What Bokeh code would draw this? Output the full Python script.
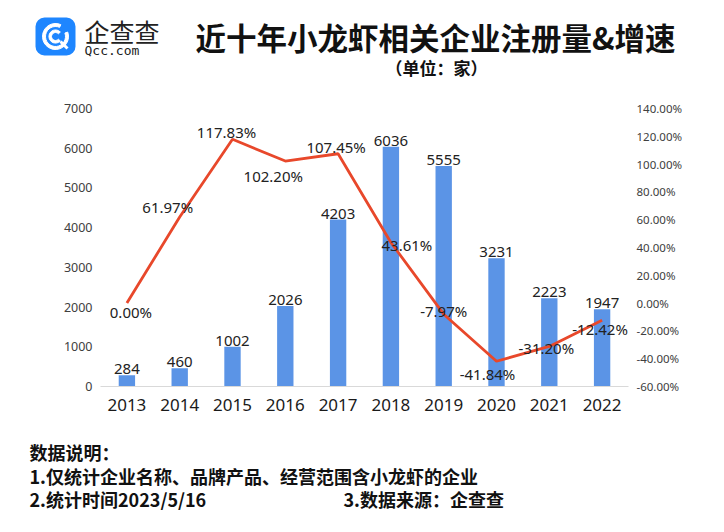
from bokeh.plotting import figure
from bokeh.models import Range1d, LinearAxis, FixedTicker, PrintfTickFormatter
from bokeh.layouts import column
from bokeh.core.properties import value
from bokeh.embed import file_html
from bokeh.resources import INLINE

# ---- data ----
years = ["2013", "2014", "2015", "2016", "2017", "2018", "2019", "2020", "2021", "2022"]
counts = [284, 460, 1002, 2026, 4203, 6036, 5555, 3231, 2223, 1947]
growth = [0.00, 61.97, 117.83, 102.20, 107.45, 43.61, -7.97, -41.84, -31.20, -12.42]
count_ticks = [0, 1000, 2000, 3000, 4000, 5000, 6000, 7000]
growth_ticks = [-60, -40, -20, 0, 20, 40, 60, 80, 100, 120, 140]

title = "近十年小龙虾相关企业注册量&增速"
subtitle = "（单位：家）"
notes = ["数据说明：", "1.仅统计企业名称、品牌产品、经营范围含小龙虾的企业", "2.统计时间2023/5/16"]
source_note = "3.数据来源：企查查"

# label placement (style): screen offsets, positive dy = downwards
pct_dx = [4, -12, -6, -12, -2, 16, 0, -9, -3, -2]
pct_dy = [9, -10, -7, 15, -7, 3, -3, 13, 2, 9]

CJK = value("Noto Sans CJK SC")
NUM = "Noto Sans"
BAR = "#5B94E6"
LINE = "#E8482B"
W = 716


def blank(h):
    f = figure(width=W, height=h, x_range=Range1d(0, W), y_range=Range1d(h, 0),
               output_backend="svg", toolbar_location=None, x_axis_type=None,
               y_axis_type=None, min_border=0, outline_line_color=None,
               frame_align=False)
    f.xgrid.visible = False
    f.ygrid.visible = False
    return f


# ---- header (page pixel coordinates) ----
hdr = blank(92)
hdr.rect(x=[55], y=[36], width=[40], height=[38], fill_color="#1E86FF",
         line_color=None, border_radius=9)
hdr.annular_wedge(x=[55], y=[36], inner_radius=10, outer_radius=13,
                  start_angle=[1.15], end_angle=[0.35], direction="anticlock",
                  color="white")
hdr.annular_wedge(x=[55], y=[36], inner_radius=4, outer_radius=6.6,
                  start_angle=[0.75], end_angle=[-0.75], direction="anticlock",
                  color="white")
hdr.line(x=[60, 67], y=[41, 48], line_color="white", line_width=3)
hdr.text(x=[84], y=[30], text=["企查查"], text_font=CJK, text_font_size="25px",
         text_color="#222222", text_baseline="middle", text_align="left")
hdr.text(x=[84], y=[50], text=["Qcc.com"], text_font=value("DejaVu Sans Mono"),
         text_font_size="13px", text_color="#222222", text_baseline="middle",
         text_align="left")
hdr.text(x=[195], y=[36.5], text=[title], text_font=CJK, text_font_size="30.5px",
         text_font_style="bold", text_color="#111111", text_baseline="middle",
         text_align="left")
hdr.text(x=[385], y=[67], text=[subtitle], text_font=CJK, text_font_size="17px",
         text_font_style="bold", text_color="#111111", text_baseline="middle",
         text_align="left")

# ---- main chart ----
p = figure(width=W, height=338, x_range=years, y_range=Range1d(0, 7000),
           output_backend="svg", toolbar_location=None,
           min_border_left=100, min_border_right=88, min_border_top=16,
           min_border_bottom=44, outline_line_color=None, frame_align=False)
p.extra_y_ranges = {"pct": Range1d(-60, 140)}
p.xgrid.visible = False
p.ygrid.visible = False

p.vbar(x=years, top=counts, width=0.31, fill_color=BAR, line_color=None)
p.line(x=years, y=growth, y_range_name="pct", line_color=LINE, line_width=2.8)
p.text(x=years, y=counts, text=[str(c) for c in counts], text_align="center",
       text_baseline="bottom", y_offset=-1, text_font=value(NUM),
       text_font_size="15px", text_color="#222222")
p.text(x=years, y=growth, text=["%.2f%%" % g for g in growth], y_range_name="pct",
       x_offset=pct_dx, y_offset=pct_dy, text_align="center", text_baseline="middle",
       text_font=value(NUM), text_font_size="15px", text_color="#222222")

xa = p.xaxis[0]
xa.axis_line_color = "#D9D9D9"
xa.major_tick_line_color = None
xa.minor_tick_line_color = None
xa.major_tick_out = 0
xa.major_label_standoff = 12
xa.major_label_text_font = NUM
xa.major_label_text_font_size = "17px"
xa.major_label_text_color = "#1A1A1A"

ya = p.yaxis[0]
ya.ticker = FixedTicker(ticks=count_ticks)
ya.axis_line_color = None
ya.major_tick_line_color = None
ya.minor_tick_line_color = None
ya.major_tick_out = 0
ya.major_label_standoff = 8
ya.major_label_text_font = NUM
ya.major_label_text_font_size = "12.5px"
ya.major_label_text_color = "#404040"

ra = LinearAxis(y_range_name="pct", ticker=FixedTicker(ticks=growth_ticks),
                formatter=PrintfTickFormatter(format="%.2f%%"))
ra.axis_line_color = None
ra.major_tick_line_color = None
ra.minor_tick_line_color = None
ra.major_tick_out = 0
ra.major_label_standoff = 8
ra.major_label_text_font = NUM
ra.major_label_text_font_size = "11.5px"
ra.major_label_text_color = "#404040"
p.add_layout(ra, "right")

# ---- footer (page x, y relative to footer top at 430) ----
ftr = blank(94)
ftr.text(x=[29, 29, 29], y=[21.5, 45.5, 68.5], text=notes, text_font=CJK,
         text_font_size="18px", text_font_style="bold", text_color="#111111",
         text_baseline="middle", text_align="left")
ftr.text(x=[343], y=[68.5], text=[source_note], text_font=CJK, text_font_size="18px",
         text_font_style="bold", text_color="#111111", text_baseline="middle",
         text_align="left")

layout = column(hdr, p, ftr, spacing=0)
open("out.html", "w").write(file_html(layout, INLINE))
